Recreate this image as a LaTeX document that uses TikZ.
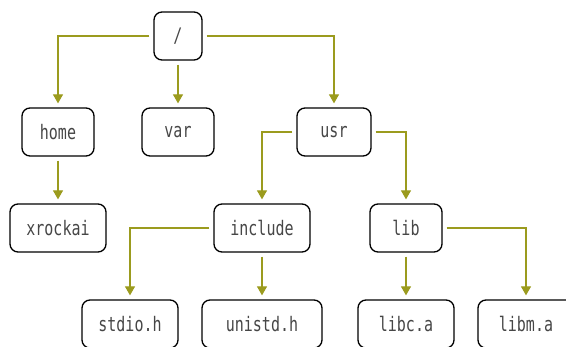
\documentclass[tikz,border=0pt]{standalone}
\usepackage{fontspec}
\usetikzlibrary{arrows.meta}
\newfontfamily\treefont[FakeStretch=0.75]{DejaVu Sans Mono}
\definecolor{linkolive}{RGB}{155,155,30}
\definecolor{labelgray}{RGB}{70,70,70}

\tikzset{
  dirbox/.style={draw=black, line width=1.3pt, rounded corners=8pt,
    minimum height=48pt, inner sep=0pt, text=labelgray,
    font=\treefont\fontsize{20}{20}\selectfont},
  link/.style={draw=linkolive, line width=1.3pt,
    -{Triangle[width=10pt,length=9pt]}, shorten <=4pt, shorten >=4pt}
}

\begin{document}
\begin{tikzpicture}[x=1pt, y=1pt, yscale=-1]
  \useasboundingbox (0,0) rectangle (566,347);
  % directories
  \node[dirbox, minimum width=48pt] (root) at (178,36) {/};
  \node[dirbox, minimum width=72pt] (home) at (58,132) {home};
  \node[dirbox, minimum width=72pt] (var) at (178,132) {var};
  \node[dirbox, minimum width=74pt] (usr) at (334,132) {usr};
  \node[dirbox, minimum width=96pt] (xrockai) at (58,228) {xrockai};
  \node[dirbox, minimum width=96pt] (include) at (262,228) {include};
  \node[dirbox, minimum width=72pt] (lib) at (406,228) {lib};
  % files
  \node[dirbox, minimum width=96pt] (stdio) at (130,324) {stdio.h};
  \node[dirbox, minimum width=120pt] (unistd) at (262,324) {unistd.h};
  \node[dirbox, minimum width=96pt] (libc) at (406,324) {libc.a};
  \node[dirbox, minimum width=96pt] (libm) at (526,324) {libm.a};

  \path[link] (root.west) -| (home.north);
  \path[link] (root.south) -- (var.north);
  \path[link] (root.east) -| (usr.north);
  \path[link] (home.south) -- (xrockai.north);
  \path[link] (usr.west) -| (include.north);
  \path[link] (usr.east) -| (lib.north);
  \path[link] (include.west) -| (stdio.north);
  \path[link] (include.south) -- (unistd.north);
  \path[link] (lib.south) -- (libc.north);
  \path[link] (lib.east) -| (libm.north);
\end{tikzpicture}
\end{document}
